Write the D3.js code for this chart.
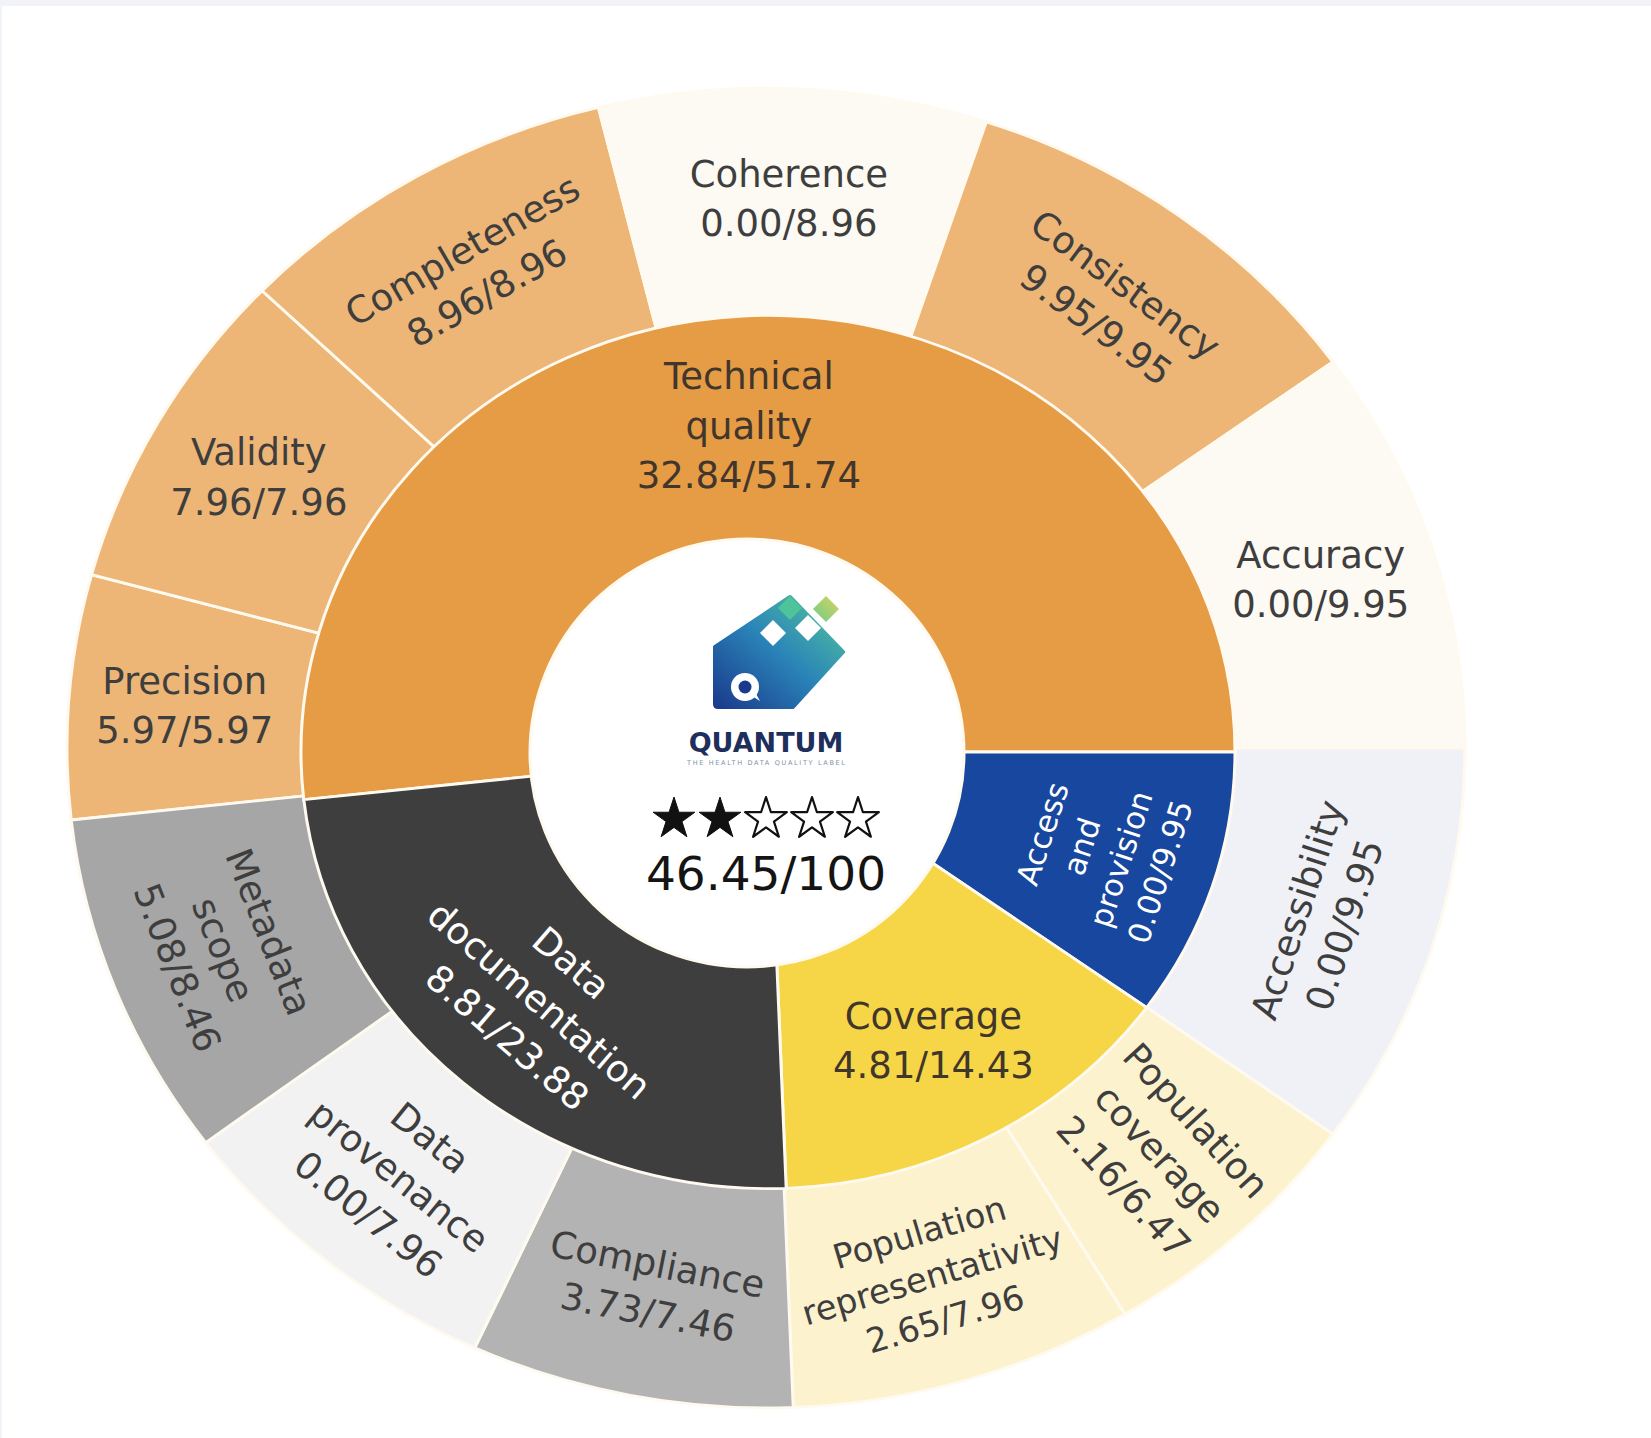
<!DOCTYPE html>
<html>
<head>
<meta charset="utf-8">
<script src="https://cdn.jsdelivr.net/npm/d3@7"></script>
<style>
  body { margin: 0; background: #fff; }
  svg { display: block; }
</style>
</head>
<body>
<div id="chart"></div>
<script>
// quality groups (inner ring)
const groups = ["Technical quality", "Access and provision", "Coverage", "Data documentation"];
const groupScores = [32.84, 0.00, 4.81, 8.81];
const groupMax = [51.74, 9.95, 14.43, 23.88];

// dimensions (outer ring), in clockwise order
const dimensions = ["Precision", "Validity", "Completeness", "Coherence", "Consistency", "Accuracy",
    "Accessibility",
    "Population coverage", "Population representativity",
    "Compliance", "Data provenance", "Metadata scope"];
const dimensionGroup = ["Technical quality", "Technical quality", "Technical quality", "Technical quality", "Technical quality", "Technical quality",
    "Access and provision",
    "Coverage", "Coverage",
    "Data documentation", "Data documentation", "Data documentation"];
const dimensionScores = [5.97, 7.96, 8.96, 0.00, 9.95, 0.00, 0.00, 2.16, 2.65, 3.73, 0.00, 5.08];
const dimensionMax = [5.97, 7.96, 8.96, 8.96, 9.95, 9.95, 9.95, 6.47, 7.96, 7.46, 7.96, 8.46];

const totalScore = 46.45;
const totalMax = 100;
const starCount = 2;

// dimensions of the drawing (the picture is slightly flattened, so rings are ellipses)
const width = 1651, height = 1438;
const outerRing = { cx: 766, cy: 748, sy: 0.944 };
const innerRing = { cx: 768, cy: 752, sy: 0.935 };
const hole = { cx: 747, cy: 753, rx: 217, ry: 214 };
const holeRadius = 233, midRadius = 467, outerRadius = 699;

// colours
const groupColor = d3.scaleOrdinal().domain(groups).range(["#e69b45", "#17479e", "#f6d646", "#3e3e3e"]);
const groupText = d3.scaleOrdinal().domain(groups).range(["#40362c", "#ffffff", "#40362c", "#ffffff"]);
const lightColor = d3.scaleOrdinal().domain(groups).range(["#fdf9f3", "#f0f1f7", "#fffbf0", "#f2f2f2"]);
const fullColor = d3.scaleOrdinal().domain(groups).range(["#edb676", "#7d93c4", "#f8e08a", "#747474"]);
const dimFill = d => d3.interpolateRgb(lightColor(d.group), fullColor(d.group))(d.score / d.max);
const edge = "#fffaf0";

// label orientation: h = horizontal, t = tangential, r = radial
const orientation = {
    "Completeness": "t", "Consistency": "t", "Accessibility": "t", "Population coverage": "r",
    "Population representativity": "t", "Compliance": "t", "Data provenance": "t", "Metadata scope": "t",
    "Access and provision": "t", "Data documentation": "t"
};
const fontSizes = { "Access and provision": 31, "Population representativity": 34 };
const baseFont = 37;

// prep data
const groupData = groups.map((g, i) => ({ name: g, group: g, score: groupScores[i], max: groupMax[i], level: 0 }));
const dimData = dimensions.map((n, i) => ({ name: n, group: dimensionGroup[i], score: dimensionScores[i], max: dimensionMax[i], level: 1 }));

const a0 = Math.PI / 2 - 2 * Math.PI * groupMax[0] / d3.sum(groupMax);
const groupArcs = d3.pie().sort(null).value(d => d.max).startAngle(a0).endAngle(a0 + 2 * Math.PI)(groupData);
const dimArcs = groupArcs.flatMap(ga => {
    const kids = dimData.filter(d => d.group === ga.data.name);
    return d3.pie().sort(null).value(d => d.max).startAngle(ga.startAngle).endAngle(ga.endAngle)(kids);
});

// wedges are drawn from the centre; the inner ring and the logo disc cover what is below
const outerWedge = d3.arc().innerRadius(0).outerRadius(outerRadius);
const innerWedge = d3.arc().innerRadius(0).outerRadius(midRadius);
const outerLabelArc = d3.arc().innerRadius(midRadius).outerRadius(outerRadius);
const innerLabelArc = d3.arc().innerRadius(holeRadius).outerRadius(midRadius);

// svg
const svg = d3.select("#chart").append("svg").attr("width", width).attr("height", height);
svg.append("rect").attr("width", width).attr("height", 6).attr("fill", "#f2f3f8");
svg.append("rect").attr("width", 2).attr("height", height).attr("fill", "#f2f3f8");

const outerG = svg.append("g").attr("transform", `translate(${outerRing.cx},${outerRing.cy}) scale(1,${outerRing.sy})`);
outerG.selectAll("path.outer")
    .data(dimArcs)
    .join("path")
    .attr("class", "outer")
    .attr("d", outerWedge)
    .attr("fill", d => dimFill(d.data))
    .attr("stroke", edge)
    .attr("stroke-width", 3);

const innerG = svg.append("g").attr("transform", `translate(${innerRing.cx},${innerRing.cy}) scale(1,${innerRing.sy})`);
innerG.selectAll("path.inner")
    .data(groupArcs)
    .join("path")
    .attr("class", "inner")
    .attr("d", innerWedge)
    .attr("fill", d => groupColor(d.data.name))
    .attr("stroke", edge)
    .attr("stroke-width", 3);

// white logo disc in the middle
svg.append("ellipse")
    .attr("cx", hole.cx).attr("cy", hole.cy)
    .attr("rx", hole.rx).attr("ry", hole.ry)
    .attr("fill", "#ffffff")
    .attr("stroke", edge)
    .attr("stroke-width", 3);

// labels
const rotation = d => {
    const mid = (d.startAngle + d.endAngle) / 2 * 180 / Math.PI;
    const mode = orientation[d.data.name] || "h";
    let rot = 0;
    if (mode === "t") rot = mid;
    if (mode === "r") rot = mid - 90;
    rot = ((rot % 360) + 540) % 360 - 180;
    if (rot > 90) rot -= 180;
    if (rot < -90) rot += 180;
    return rot;
};

const fmt = d3.format(".2f");
const labelData = groupArcs.map(d => ({ arc: d, gen: innerLabelArc, ring: innerRing }))
    .concat(dimArcs.map(d => ({ arc: d, gen: outerLabelArc, ring: outerRing })));

const labels = svg.append("g").selectAll("text.label")
    .data(labelData)
    .join("text")
    .attr("class", "label")
    .attr("font-family", "'DejaVu Sans', Verdana, sans-serif")
    .attr("font-size", d => fontSizes[d.arc.data.name] || baseFont)
    .attr("text-anchor", "middle")
    .attr("fill", d => d.arc.data.level === 0 ? groupText(d.arc.data.name) : "#3e3e3e")
    .attr("transform", d => {
        const [x, y] = d.gen.centroid(d.arc);
        return `translate(${d.ring.cx + x},${d.ring.cy + y * d.ring.sy}) rotate(${rotation(d.arc)})`;
    });

labels.each(function (d) {
    const lines = d.arc.data.name.split(" ").concat(`${fmt(d.arc.data.score)}/${fmt(d.arc.data.max)}`);
    const fs = fontSizes[d.arc.data.name] || baseFont;
    const lh = fs * 1.33;
    d3.select(this).selectAll("tspan")
        .data(lines)
        .join("tspan")
        .attr("x", 0)
        .attr("y", (l, i) => (i - (lines.length - 1) / 2) * lh + fs * 0.36)
        .text(l => l);
});

// centre: logo, stars and total score
const centerG = svg.append("g").attr("transform", `translate(766,748)`);

const defs = svg.append("defs");
const grad = defs.append("linearGradient").attr("id", "tagGrad")
    .attr("x1", "0%").attr("y1", "100%").attr("x2", "100%").attr("y2", "0%");
grad.append("stop").attr("offset", "0%").attr("stop-color", "#1a3a8c");
grad.append("stop").attr("offset", "50%").attr("stop-color", "#2a84b8");
grad.append("stop").attr("offset", "100%").attr("stop-color", "#56c79c");
const grad2 = defs.append("linearGradient").attr("id", "leafGrad")
    .attr("x1", "0%").attr("y1", "100%").attr("x2", "100%").attr("y2", "0%");
grad2.append("stop").attr("offset", "0%").attr("stop-color", "#6fcb8a");
grad2.append("stop").attr("offset", "100%").attr("stop-color", "#d6d45c");

centerG.append("path")
    .attr("d", "M-51,-44 Q-51,-41 -48,-41 L27,-41 L77,-96 L24,-151 L-51,-101 Z")
    .attr("fill", "url(#tagGrad)")
    .attr("stroke", "url(#tagGrad)")
    .attr("stroke-width", 4)
    .attr("stroke-linejoin", "round");

const diamond = (x, y, r) => `M${x},${y - r} L${x + r},${y} L${x},${y + r} L${x - r},${y} Z`;
centerG.append("path").attr("d", diamond(7, -115, 13)).attr("fill", "#ffffff");
centerG.append("path").attr("d", diamond(42, -120, 13)).attr("fill", "#ffffff");
centerG.append("path").attr("d", diamond(24, -140, 12)).attr("fill", "#4fc39a");
centerG.append("path").attr("d", diamond(60, -139, 13)).attr("fill", "url(#leafGrad)");

centerG.append("circle").attr("cx", -21).attr("cy", -61).attr("r", 14).attr("fill", "#ffffff");
centerG.append("circle").attr("cx", -21).attr("cy", -61).attr("r", 6.5).attr("fill", "#1a3a8c");
centerG.append("path").attr("d", "M-14,-52 L-6,-47 L-11,-56 Z").attr("fill", "#ffffff");

centerG.append("text")
    .attr("x", 0).attr("y", 4)
    .attr("text-anchor", "middle")
    .attr("font-family", "'DejaVu Sans', sans-serif")
    .attr("font-weight", "bold")
    .attr("font-size", 27)
    .attr("fill", "#1f2f5c")
    .text("QUANTUM");

centerG.append("text")
    .attr("x", -79).attr("y", 17)
    .attr("textLength", 158)
    .attr("font-family", "'DejaVu Sans', sans-serif")
    .attr("font-size", 6.5)
    .attr("fill", "#8090a8")
    .text("THE HEALTH DATA QUALITY LABEL");

const starX = d3.scaleLinear().domain([0, 4]).range([-92, 92]);
const star = d3.symbol().type(d3.symbolStar).size(540);
centerG.selectAll("path.star")
    .data(d3.range(5))
    .join("path")
    .attr("class", "star")
    .attr("d", star)
    .attr("transform", i => `translate(${starX(i)},71)`)
    .attr("fill", i => i < starCount ? "#111111" : "#ffffff")
    .attr("stroke", "#111111")
    .attr("stroke-width", i => i < starCount ? 1 : 2.2)
    .attr("stroke-linejoin", "round");

centerG.append("text")
    .attr("x", 0).attr("y", 142)
    .attr("text-anchor", "middle")
    .attr("font-family", "'DejaVu Sans', Verdana, sans-serif")
    .attr("font-size", 47)
    .attr("fill", "#141414")
    .text(`${fmt(totalScore)}/${totalMax}`);
</script>
</body>
</html>
